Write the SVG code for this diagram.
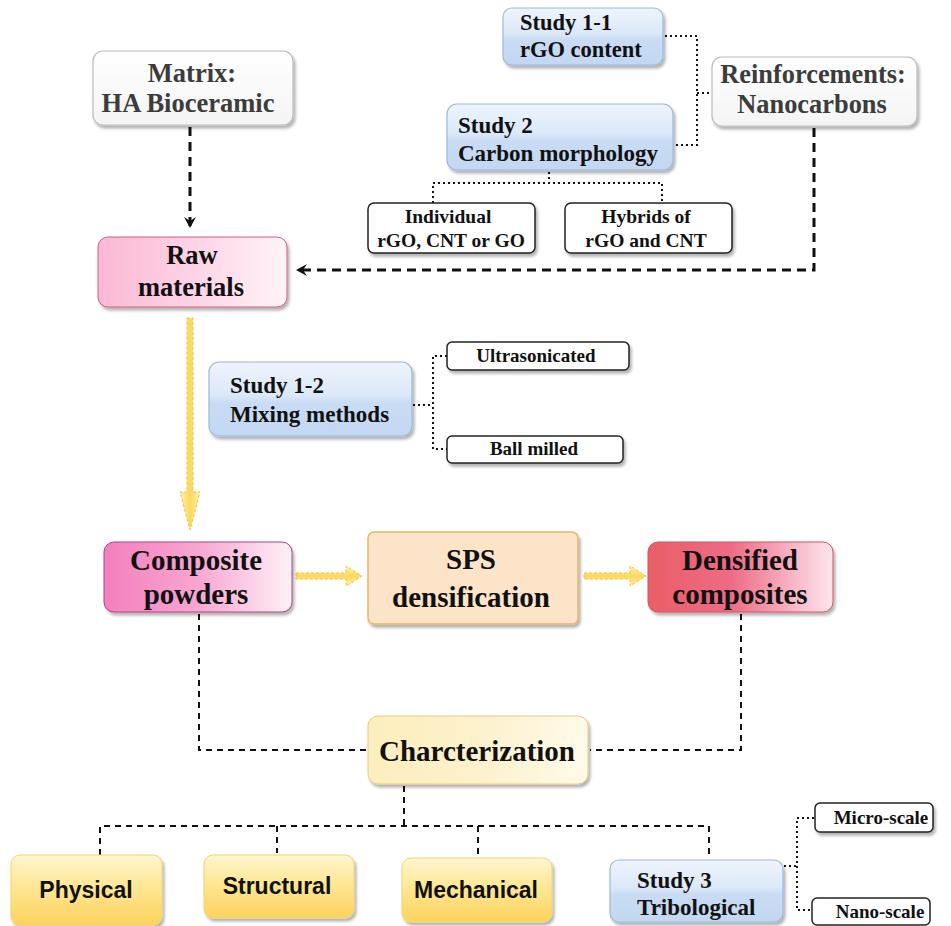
<svg xmlns="http://www.w3.org/2000/svg" width="951" height="926" viewBox="0 0 951 926">
<defs>
<filter id="sh" x="-10%" y="-10%" width="125%" height="130%">
<feDropShadow dx="2" dy="3" stdDeviation="1.5" flood-color="#000" flood-opacity="0.3"/>
</filter>
<linearGradient id="gBlue" x1="0" y1="0" x2="0" y2="1">
<stop offset="0" stop-color="#eef4fc"/><stop offset="0.45" stop-color="#dbe8f8"/><stop offset="0.55" stop-color="#cadcf4"/><stop offset="1" stop-color="#c2d7f2"/>
</linearGradient>
<linearGradient id="gWhite" x1="0" y1="0" x2="0" y2="1">
<stop offset="0" stop-color="#ffffff"/><stop offset="1" stop-color="#f4f4f4"/>
</linearGradient>
<linearGradient id="gRaw" x1="0" y1="0" x2="1" y2="0">
<stop offset="0" stop-color="#fbb8d4"/><stop offset="0.5" stop-color="#fdd3e5"/><stop offset="1" stop-color="#fff4f8"/>
</linearGradient>
<linearGradient id="gComp" x1="0" y1="0" x2="1" y2="0">
<stop offset="0" stop-color="#f47fbe"/><stop offset="0.5" stop-color="#f8a6d2"/><stop offset="1" stop-color="#fff0f6"/>
</linearGradient>
<linearGradient id="gDens" x1="0" y1="0" x2="1" y2="0">
<stop offset="0" stop-color="#e85f66"/><stop offset="0.45" stop-color="#ee6b86"/><stop offset="1" stop-color="#fde6ee"/>
</linearGradient>
<linearGradient id="gChar" x1="0" y1="0" x2="1" y2="0">
<stop offset="0" stop-color="#fdeebd"/><stop offset="0.5" stop-color="#fdf1cc"/><stop offset="1" stop-color="#fffaea"/>
</linearGradient>
<linearGradient id="gYel" x1="0" y1="0" x2="0" y2="1">
<stop offset="0" stop-color="#fff6d0"/><stop offset="0.4" stop-color="#fee99a"/><stop offset="1" stop-color="#fcd25c"/>
</linearGradient>
<linearGradient id="gArrV" x1="0" y1="0" x2="1" y2="0">
<stop offset="0" stop-color="#fff0b8"/><stop offset="0.5" stop-color="#fcd85a"/><stop offset="1" stop-color="#fff0b8"/>
</linearGradient>
<linearGradient id="gArrH" x1="0" y1="0" x2="0" y2="1">
<stop offset="0" stop-color="#fff0b8"/><stop offset="0.5" stop-color="#fcd85a"/><stop offset="1" stop-color="#fff0b8"/>
</linearGradient>
<marker id="arr" viewBox="0 0 14 14" refX="12" refY="7" markerWidth="14" markerHeight="14" markerUnits="userSpaceOnUse" orient="auto">
<path d="M1,1 L12,7 L1,13 L5,7 Z" fill="#111"/>
</marker>
</defs>
<style>
.serif{font-family:"Liberation Serif","Times New Roman",serif;font-weight:bold;}
.sans{font-family:"Liberation Sans",Arial,sans-serif;font-weight:bold;}
.gray{fill:#3c3c3c;}
.blk{fill:#111;}
.dash{fill:none;stroke:#111;stroke-width:2;stroke-dasharray:6,5;}
.dashb{fill:none;stroke:#111;stroke-width:3;stroke-dasharray:9,6;}
.dot{fill:none;stroke:#111;stroke-width:2;stroke-dasharray:2,3;}
.small{fill:#fff;stroke:#222;stroke-width:1.5;}
.blue{fill:url(#gBlue);stroke:#9bb8dc;stroke-width:1.2;}
.yarr{stroke:#f1c232;stroke-width:1;stroke-dasharray:3,2;}
</style>

<g id="connectors">
<path class="dashb" d="M190,127 L190,228" marker-end="url(#arr)"/>
<path class="dashb" d="M814,128 L814,270 L296,270" marker-end="url(#arr)"/>
<path class="dot" d="M665,36 L697,36 L697,145 L675,145"/>
<path class="dot" d="M697,93 L711,93"/>
<path class="dot" d="M549,172 L549,183 M433,203 L433,183 L662,183 L662,203"/>
<path class="dot" d="M413,405 L433,405 M447,356 L433,356 L433,449 L447,449"/>
<path class="dot" d="M784,866 L797,866 M814,818 L797,818 L797,910 L813,910"/>
<path class="dash" d="M199,614 L199,750 L369,750"/>
<path class="dash" d="M741,614 L741,750 L590,750"/>
<path class="dash" d="M404,786 L404,826 M100,855 L100,826 L709,826 L709,858 M277,826 L277,853 M478,826 L478,856"/>
<path class="yarr" d="M187,318 L193,318 L193,492 L200,492 L190,530 L180,492 L187,492 Z" fill="url(#gArrV)"/>
<path class="yarr" d="M296,573 L346,573 L346,566 L362,576 L346,586 L346,579 L296,579 Z" fill="url(#gArrH)"/>
<path class="yarr" d="M584,573 L630,573 L630,566 L646,576 L630,586 L630,579 L584,579 Z" fill="url(#gArrH)"/>
</g>

<g id="matrix">
<rect x="93" y="51" width="200" height="74" rx="10" fill="url(#gWhite)" stroke="#bbb" stroke-width="1.2" filter="url(#sh)"/>
<text class="serif gray" x="192" y="82" font-size="26.5" text-anchor="middle">Matrix:</text>
<text class="serif gray" x="188" y="112" font-size="26.5" text-anchor="middle">HA Bioceramic</text>
</g>

<g id="study11">
<rect x="503" y="8" width="160" height="57" rx="9" class="blue" filter="url(#sh)"/>
<text class="serif blk" x="520" y="30" font-size="22.5">Study 1-1</text>
<text class="serif blk" x="520" y="57" font-size="22.5">rGO content</text>
</g>

<g id="reinforcements">
<rect x="712" y="57" width="205" height="69" rx="10" fill="url(#gWhite)" stroke="#bbb" stroke-width="1.2" filter="url(#sh)"/>
<text class="serif gray" x="813" y="83" font-size="26.4" text-anchor="middle">Reinforcements:</text>
<text class="serif gray" x="812" y="113" font-size="26.4" text-anchor="middle">Nanocarbons</text>
</g>

<g id="study2">
<rect x="447" y="104" width="226" height="66" rx="10" class="blue" filter="url(#sh)"/>
<text class="serif blk" x="458" y="133" font-size="23">Study 2</text>
<text class="serif blk" x="458" y="161" font-size="23">Carbon morphology</text>
</g>

<g id="individual">
<rect x="368" y="203" width="167" height="50" rx="6" class="small" filter="url(#sh)"/>
<text class="serif blk" x="448" y="223" font-size="19.5" text-anchor="middle">Individual</text>
<text class="serif blk" x="451" y="247" font-size="19.5" text-anchor="middle">rGO, CNT or GO</text>
</g>

<g id="hybrids">
<rect x="565" y="203" width="167" height="50" rx="6" class="small" filter="url(#sh)"/>
<text class="serif blk" x="646" y="223" font-size="19.5" text-anchor="middle">Hybrids of</text>
<text class="serif blk" x="646" y="247" font-size="19.5" text-anchor="middle">rGO and CNT</text>
</g>

<g id="raw">
<rect x="98" y="237" width="189" height="70" rx="10" fill="url(#gRaw)" stroke="#d0607c" stroke-width="1" filter="url(#sh)"/>
<text class="serif blk" x="192" y="264" font-size="26.5" text-anchor="middle">Raw</text>
<text class="serif blk" x="191" y="296" font-size="26.5" text-anchor="middle">materials</text>
</g>

<g id="study12">
<rect x="209" y="362" width="203" height="74" rx="10" class="blue" filter="url(#sh)"/>
<text class="serif blk" x="230" y="393" font-size="23">Study 1-2</text>
<text class="serif blk" x="230" y="422" font-size="23">Mixing methods</text>
</g>

<g id="ultrasonicated">
<rect x="447" y="342" width="182" height="28" rx="5" class="small" filter="url(#sh)"/>
<text class="serif blk" x="536" y="362" font-size="19" text-anchor="middle">Ultrasonicated</text>
</g>

<g id="ballmilled">
<rect x="447" y="436" width="176" height="27" rx="5" class="small" filter="url(#sh)"/>
<text class="serif blk" x="534" y="455" font-size="19" text-anchor="middle">Ball milled</text>
</g>

<g id="composite">
<rect x="104" y="542" width="188" height="70" rx="10" fill="url(#gComp)" stroke="#b04080" stroke-width="1" filter="url(#sh)"/>
<text class="serif blk" x="196" y="570" font-size="29" text-anchor="middle">Composite</text>
<text class="serif blk" x="196" y="604" font-size="29" text-anchor="middle">powders</text>
</g>

<g id="sps">
<rect x="368" y="532" width="210" height="92" rx="6" fill="#fde4c9" stroke="#e6b866" stroke-width="1.5" filter="url(#sh)"/>
<text class="serif blk" x="471" y="569" font-size="29" text-anchor="middle">SPS</text>
<text class="serif blk" x="471" y="607" font-size="29" text-anchor="middle">densification</text>
</g>

<g id="densified">
<rect x="648" y="542" width="185" height="70" rx="10" fill="url(#gDens)" stroke="#d85060" stroke-width="1" filter="url(#sh)"/>
<text class="serif blk" x="740" y="570" font-size="29" text-anchor="middle">Densified</text>
<text class="serif blk" x="740" y="604" font-size="29" text-anchor="middle">composites</text>
</g>

<g id="characterization">
<rect x="368" y="716" width="220" height="68" rx="10" fill="url(#gChar)" stroke="#e8cc78" stroke-width="1" filter="url(#sh)"/>
<text class="serif blk" x="477" y="761" font-size="29" text-anchor="middle">Charcterization</text>
</g>

<g id="physical">
<rect x="11" y="855" width="151" height="70" rx="9" fill="url(#gYel)" stroke="#f1d46e" stroke-width="1" filter="url(#sh)"/>
<text class="sans blk" x="86" y="898" font-size="23" text-anchor="middle">Physical</text>
</g>

<g id="structural">
<rect x="204" y="855" width="150" height="63" rx="9" fill="url(#gYel)" stroke="#f1d46e" stroke-width="1" filter="url(#sh)"/>
<text class="sans blk" x="277" y="894" font-size="23" text-anchor="middle">Structural</text>
</g>

<g id="mechanical">
<rect x="402" y="858" width="150" height="64" rx="9" fill="url(#gYel)" stroke="#f1d46e" stroke-width="1" filter="url(#sh)"/>
<text class="sans blk" x="476" y="898" font-size="23" text-anchor="middle">Mechanical</text>
</g>

<g id="study3">
<rect x="610" y="860" width="173" height="62" rx="9" class="blue" filter="url(#sh)"/>
<text class="serif blk" x="637" y="888" font-size="23">Study 3</text>
<text class="serif blk" x="637" y="915" font-size="23">Tribological</text>
</g>

<g id="microscale">
<rect x="815" y="803" width="118" height="29" rx="5" class="small" filter="url(#sh)"/>
<text class="serif blk" x="881" y="824" font-size="19" text-anchor="middle">Micro-scale</text>
</g>

<g id="nanoscale">
<rect x="812" y="898" width="118" height="27" rx="5" class="small"/>
<text class="serif blk" x="880" y="918" font-size="19" text-anchor="middle">Nano-scale</text>
</g>
</svg>
